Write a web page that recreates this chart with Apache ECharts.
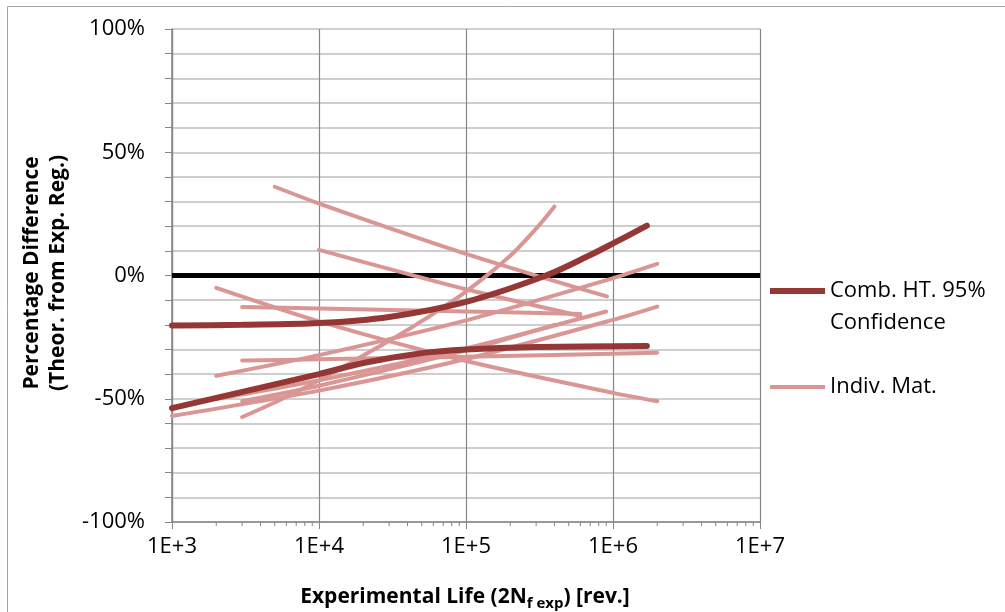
<!DOCTYPE html>
<html>
<head>
<meta charset="utf-8">
<script src="https://cdn.jsdelivr.net/npm/echarts@6/dist/echarts.min.js"></script>
<style>
  html, body { margin: 0; padding: 0; background: #fff; }
  #chart { width: 1005px; height: 612px; }
</style>
</head>
<body>
<div id="chart"></div>
<script>
// Experimental life (2Nf) vs. percentage difference of theoretical prediction
// from the experimental regression. Values are in percent.

const zeroRef = [[1e3, 0], [1e7, 0]];

// Combined heat-treatment 95% confidence bounds
const combUpper = [[1e3, -20.3], [3e3, -20.0], [1e4, -19.3], [3e4, -16.8], [1e5, -10.7], [3.5e5, 0], [7e5, 8.3], [1e6, 13.0], [1.7e6, 20.2]];
const combLower = [[1e3, -53.8], [1e4, -40.0], [2e4, -35.5], [5e4, -31.5], [1e5, -30.0], [3e5, -29.0], [1.7e6, -28.6]];

// Individual materials
const matA = [[5e3, 36.0], [1e4, 29.2], [1e5, 8.8], [9.1e5, -8.5]];
const matB = [[1e4, 10.4], [1e5, -5.6], [6e5, -16.4]];
const matC = [[3e3, -12.8], [1e4, -13.4], [1e5, -14.6], [6e5, -15.6]];
const matD = [[2e3, -5.0], [1e4, -18.6], [1e5, -34.7], [1e6, -47.6], [2e6, -51.0]];
const matE = [[3e3, -57.4], [5e3, -51.5], [1e4, -42.5], [2e4, -32.5], [3e4, -26.5], [5e4, -18.5], [1e5, -6.5], [2e5, 8.0], [3e5, 19.0], [4e5, 28.0]];
const matF = [[2e3, -40.7], [1e4, -32.3], [1e5, -18.2], [1e6, -1.1], [2e6, 4.7]];
const matG = [[3e3, -34.5], [1e4, -34.0], [1e5, -33.0], [2e6, -31.3]];
const matH = [[1e3, -57.0], [1e4, -46.7], [1e5, -33.9], [1e6, -18.0], [2e6, -12.6]];
const matI = [[2e3, -50.1], [1e4, -42.5], [1e5, -29.6], [9e5, -14.6]];
const matJ = [[3e3, -51.0], [1e4, -44.7], [1e5, -30.4], [4e5, -20.0]];
const materials = [matA, matB, matC, matD, matE, matF, matG, matH, matI, matJ];

// Minor tick positions on the life axis (2..9 within each decade)
const minorTickLives = [
  2e3, 3e3, 4e3, 5e3, 6e3, 7e3, 8e3, 9e3,
  2e4, 3e4, 4e4, 5e4, 6e4, 7e4, 8e4, 9e4,
  2e5, 3e5, 4e5, 5e5, 6e5, 7e5, 8e5, 9e5,
  2e6, 3e6, 4e6, 5e6, 6e6, 7e6, 8e6, 9e6
];

const COMB_NAME = 'Comb. HT. 95%';
const MAT_NAME = 'Indiv. Mat.';
const DARK = '#953735';
const PINK = '#D99694';
const AXIS_GRAY = '#868686';
const GRID_GRAY = '#BFBFBF';
const FONT = '"Open Sans", "Liberation Sans", sans-serif';

const chart = echarts.init(document.getElementById('chart'), null, { renderer: 'canvas' });

const series = [];
materials.forEach(function (pts) {
  series.push({
    name: MAT_NAME, type: 'line', data: pts, symbol: 'none', smooth: 0.25,
    lineStyle: { color: PINK, width: 4, cap: 'round' }, itemStyle: { color: PINK }, z: 3
  });
});
[combUpper, combLower].forEach(function (pts) {
  series.push({
    name: COMB_NAME, type: 'line', data: pts, symbol: 'none', smooth: 0.3,
    lineStyle: { color: DARK, width: 6, cap: 'round' }, itemStyle: { color: DARK }, z: 4
  });
});
series.push({
  name: 'zero', type: 'line', data: zeroRef, symbol: 'none',
  lineStyle: { color: '#000', width: 5 }, z: 2
});
series.push({
  name: 'minorTicks', type: 'custom', silent: true, clip: false, z: 5,
  data: minorTickLives.map(function (v) { return [v, -100]; }),
  renderItem: function (params, api) {
    const p = api.coord([api.value(0), api.value(1)]);
    return {
      type: 'line',
      shape: { x1: p[0], y1: p[1], x2: p[0], y2: p[1] + 4 },
      style: { stroke: AXIS_GRAY, lineWidth: 1 }
    };
  }
});

const legendText = { fontFamily: FONT, fontSize: 22, color: '#000', lineHeight: 32 };

chart.setOption({
  animation: false,
  backgroundColor: '#fff',
  grid: { left: 172, right: 245, top: 29, bottom: 90 },
  xAxis: {
    type: 'log', logBase: 10, min: 1e3, max: 1e7,
    axisLine: { onZero: false, lineStyle: { color: AXIS_GRAY, width: 1.5 } },
    axisTick: { show: true, length: 7, lineStyle: { color: AXIS_GRAY } },
    minorTick: { show: false },
    splitLine: { show: true, lineStyle: { color: AXIS_GRAY, width: 1.2 } },
    axisLabel: {
      fontFamily: FONT, fontSize: 22, color: '#000', margin: 14,
      formatter: function (v) { return '1E+' + Math.round(Math.log10(v)); }
    }
  },
  yAxis: {
    type: 'value', min: -100, max: 100, interval: 50,
    axisLine: { show: true, lineStyle: { color: AXIS_GRAY, width: 1.5 } },
    axisTick: { show: true, length: 7, lineStyle: { color: AXIS_GRAY } },
    minorTick: { show: true, splitNumber: 5, length: 7, lineStyle: { color: AXIS_GRAY } },
    splitLine: { show: true, lineStyle: { color: GRID_GRAY, width: 1.5 } },
    minorSplitLine: { show: true, lineStyle: { color: GRID_GRAY, width: 1.5 } },
    axisLabel: {
      fontFamily: FONT, fontSize: 22, color: '#000', margin: 27,
      formatter: function (v) { return v + '%'; }
    }
  },
  legend: [
    {
      data: [COMB_NAME], orient: 'vertical', left: 770, top: 243, padding: 0,
      icon: 'rect', itemWidth: 55, itemHeight: 6, itemGap: 0, selectedMode: false,
      formatter: function () { return '\nComb. HT. 95%\nConfidence'; },
      textStyle: legendText
    },
    {
      data: [MAT_NAME], orient: 'vertical', left: 770, top: 371, padding: 0,
      icon: 'rect', itemWidth: 55, itemHeight: 4, itemGap: 0, selectedMode: false,
      textStyle: legendText
    }
  ],
  graphic: [
    {
      type: 'rect', silent: true, z: -1,
      shape: { x: 7.5, y: 6.5, width: 1100, height: 700 },
      style: { fill: 'none', stroke: '#A6A6A6', lineWidth: 1 }
    },
    {
      type: 'text', x: 45, y: 273, rotation: Math.PI / 2,
      style: {
        text: 'Percentage Difference\n(Theor. from Exp. Reg.)',
        fontFamily: FONT, fontSize: 21, fontWeight: 'bold', fill: '#000',
        align: 'center', verticalAlign: 'middle', lineHeight: 26
      }
    },
    {
      type: 'text', x: 465, y: 597,
      style: {
        text: '{m|Experimental Life (2N}{s|f exp}{m|) [rev.]}',
        align: 'center', verticalAlign: 'middle',
        rich: {
          m: { fontFamily: FONT, fontSize: 21, fontWeight: 'bold', fill: '#000', lineHeight: 28, verticalAlign: 'middle' },
          s: { fontFamily: FONT, fontSize: 15, fontWeight: 'bold', fill: '#000', lineHeight: 28, verticalAlign: 'bottom', padding: [12, 0, 0, 0] }
        }
      }
    }
  ],
  series: series
});
</script>
</body>
</html>
